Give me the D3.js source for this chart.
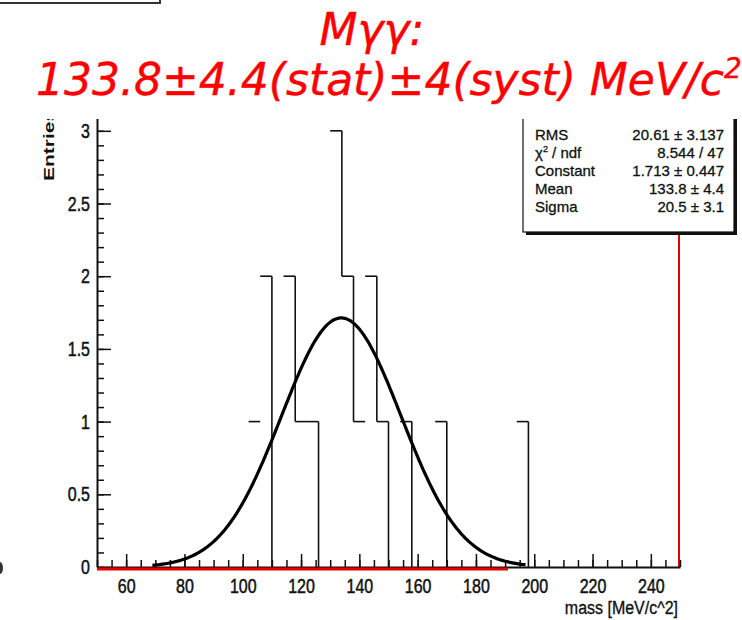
<!DOCTYPE html>
<html>
<head>
<meta charset="utf-8">
<script src="https://cdn.jsdelivr.net/npm/d3@7"></script>
<style>
body { margin: 0; background: #fff; }
text { font-family: "Liberation Sans", Arial, sans-serif; }
</style>
</head>
<body>
<svg id="chart" width="742" height="620"></svg>
<script>
// histogram: lower edge of each filled bin and its content (bin width 4)
var binLow   = [102, 106, 114, 118, 122, 130, 134, 138, 142, 146, 154, 166, 194];
var binCount = [  1,   2,   2,   1,   1,   3,   2,   1,   2,   1,   1,   1,   1];
var binWidth = 4;

var xTicks = [60, 80, 100, 120, 140, 160, 180, 200, 220, 240];
var yTicks = [0, 0.5, 1, 1.5, 2, 2.5, 3];

// gaussian fit parameters (from the stats box)
var fitConstant = 1.713, fitMean = 133.8, fitSigma = 20.5;
var fitRange = [69, 197];

var statLabels = ["RMS", "χ2 / ndf", "Constant", "Mean", "Sigma"];
var statValues = ["20.61 ± 3.137", "8.544 / 47", "1.713 ± 0.447", "133.8 ± 4.4", "20.5 ± 3.1"];

var stretch = 1.3; // the picture is taller than wide, so is its lettering

var svg = d3.select("#chart");

// little box cut at the top-left corner
svg.append("rect")
	.attr("x", -10).attr("y", -20).attr("width", 170).attr("height", 23)
	.attr("fill", "none").attr("stroke", "#333").attr("stroke-width", 2);

// title
var title = svg.append("g")
	.attr("fill", "#ff0000").attr("stroke", "#ff0000").attr("stroke-width", 0.4)
	.style("font-style", "italic")
	.style("font-size", "44px");
title.append("text")
	.attr("x", 372).attr("y", 45)
	.attr("text-anchor", "middle")
	.style("font-family", "'DejaVu Sans', sans-serif")
	.text("Mγγ:");
var t2 = title.append("text")
	.attr("x", 36).attr("y", 95)
	.style("font-family", "'DejaVu Sans', sans-serif");
t2.append("tspan").text("133.8±4.4(stat)±4(syst) MeV/c");
t2.append("tspan").attr("dy", -17).style("font-size", "28px").text("2");

// plot, clipped at the top like the cut-out picture
svg.append("clipPath").attr("id", "cut")
	.append("rect").attr("x", 0).attr("y", 119).attr("width", 742).attr("height", 501);
var g = svg.append("g").attr("clip-path", "url(#cut)");

var x = d3.scaleLinear().domain([50, 250]).range([97, 680]);
var y = d3.scaleLinear().domain([0, 3.15]).range([567, 109]);

// red right frame
g.append("line")
	.attr("x1", x(250) - 1).attr("x2", x(250) - 1)
	.attr("y1", y(3.15)).attr("y2", y(0))
	.attr("stroke", "#e00000").attr("stroke-width", 2);

// minor ticks
g.append("g")
	.attr("transform", "translate(0," + y(0) + ")")
	.call(d3.axisBottom(x).tickValues(d3.range(50, 251, 5)).tickSize(-7).tickFormat(""))
	.call(function(a){ a.select(".domain").remove(); });
g.append("g")
	.attr("transform", "translate(" + x(50) + ",0)")
	.call(d3.axisLeft(y).tickValues(d3.range(0, 3.11, 0.1)).tickSize(-7).tickFormat(""))
	.call(function(a){ a.select(".domain").remove(); });

// main axes
var xAxis = g.append("g")
	.attr("transform", "translate(0," + y(0) + ")")
	.call(d3.axisBottom(x).tickValues(xTicks).tickSizeInner(-13).tickSizeOuter(0).tickPadding(0));
var yAxis = g.append("g")
	.attr("transform", "translate(" + x(50) + ",0)")
	.call(d3.axisLeft(y).tickValues(yTicks).tickSizeInner(-14).tickSizeOuter(0).tickPadding(7)
		.tickFormat(function(d){ return d; }));
g.selectAll(".tick line").attr("stroke", "#111").attr("stroke-width", 1.5);
g.selectAll(".domain").attr("stroke", "#111").attr("stroke-width", 2);
g.selectAll(".tick text").attr("fill", "#111")
	.attr("stroke", "#111").attr("stroke-width", 0.4)
	.style("font-family", "'Liberation Sans', Arial, sans-serif").style("font-size", "16px")
	.attr("transform", "scale(1," + stretch + ")");
xAxis.selectAll(".tick text").attr("y", 11 / stretch);

// red zero line of the histogram
g.append("line")
	.attr("x1", x(50)).attr("x2", x(191))
	.attr("y1", y(0) + 2).attr("y2", y(0) + 2)
	.attr("stroke", "#e00000").attr("stroke-width", 3);

// histogram: bin tops and the falling edges
var hist = g.append("g").attr("stroke", "#111").attr("stroke-width", 1.6).attr("fill", "none");
binLow.forEach(function(lo, i){
	var c = binCount[i];
	hist.append("line")
		.attr("x1", x(lo)).attr("x2", x(lo + binWidth))
		.attr("y1", y(c)).attr("y2", y(c));
	var next = (binLow[i + 1] === lo + binWidth) ? binCount[i + 1] : 0;
	if (next < c) {
		hist.append("line")
			.attr("x1", x(lo + binWidth)).attr("x2", x(lo + binWidth))
			.attr("y1", y(c)).attr("y2", y(next));
	}
});

// fitted gaussian
var fitX = d3.range(fitRange[0], fitRange[1] + 0.01, 0.5);
var gauss = function(v){ return fitConstant * Math.exp(-0.5 * Math.pow((v - fitMean) / fitSigma, 2)); };
g.append("path")
	.datum(fitX)
	.attr("fill", "none").attr("stroke", "#000").attr("stroke-width", 3.2)
	.attr("d", d3.line().x(function(d){ return x(d); }).y(function(d){ return y(gauss(d)); }));

// axis titles
g.append("text")
	.attr("transform", "translate(" + (x(250) - 2) + ",614) scale(1,1.1)")
	.attr("text-anchor", "end")
	.attr("fill", "#111").attr("stroke", "#111").attr("stroke-width", 0.3)
	.style("font-size", "16px")
	.text("mass [MeV/c^2]");
g.append("text")
	.attr("transform", "translate(54,181) rotate(-90) scale(1.4,1)")
	.attr("fill", "#111")
	.style("font-size", "15px").style("font-weight", "bold")
	.text("Entries");

// stats box
var box = g.append("g");
box.append("rect")
	.attr("x", 526).attr("y", 100).attr("width", 211).attr("height", 135)
	.attr("fill", "#111");
box.append("rect")
	.attr("x", 523).attr("y", 97).attr("width", 211).attr("height", 135)
	.attr("fill", "#fff").attr("stroke", "#111").attr("stroke-width", 1.2);
statLabels.forEach(function(lab, i){
	var yy = 140 + i * 18;
	var t = box.append("text")
		.attr("x", 535).attr("y", yy)
		.attr("fill", "#111").attr("stroke", "#111").attr("stroke-width", 0.3)
		.style("font-size", "15px");
	if (lab.indexOf("χ2") === 0) {
		t.append("tspan").text("χ");
		t.append("tspan").attr("dy", -6).style("font-size", "9px").text("2");
		t.append("tspan").attr("dy", 6).text(" / ndf");
	} else {
		t.text(lab);
	}
	box.append("text")
		.attr("x", 724).attr("y", yy)
		.attr("text-anchor", "end")
		.attr("fill", "#111").attr("stroke", "#111").attr("stroke-width", 0.3)
		.style("font-size", "15px")
		.text(statValues[i]);
});

// stray mark at the left border
svg.append("ellipse").attr("cx", 0).attr("cy", 568).attr("rx", 3).attr("ry", 6).attr("fill", "#333");
</script>
</body>
</html>
